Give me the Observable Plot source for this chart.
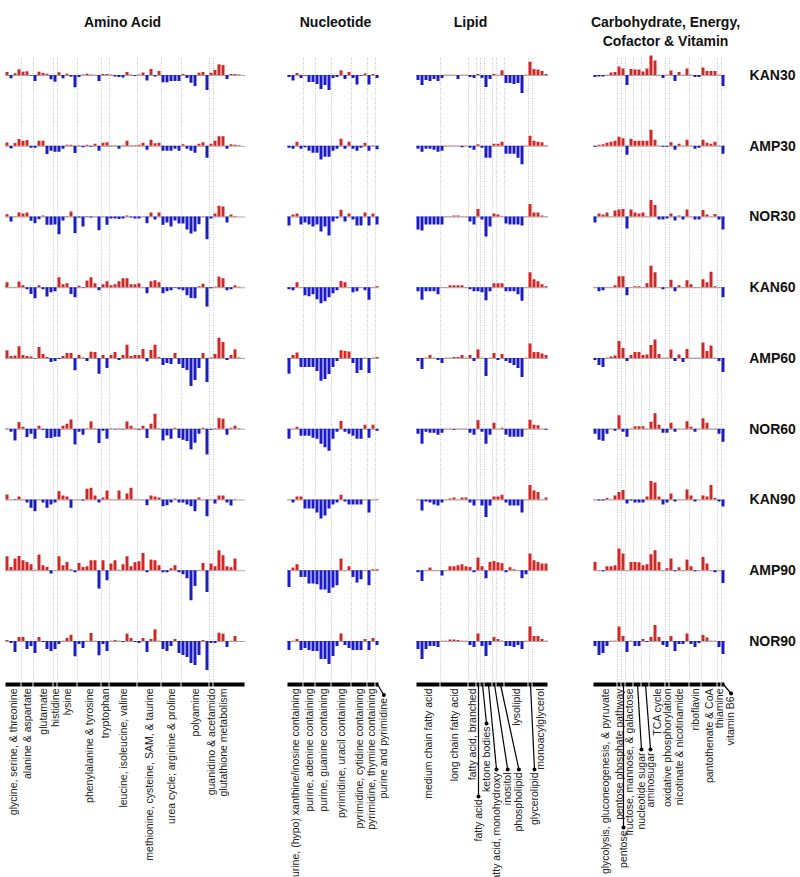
<!DOCTYPE html>
<html><head><meta charset="utf-8">
<script src="https://cdn.jsdelivr.net/npm/d3@7"></script>
<script src="https://cdn.jsdelivr.net/npm/@observablehq/plot@0.6"></script>
<style>
html,body{margin:0;padding:0;background:#fff;}
#chart{width:800px;height:877px;}
</style></head><body><div id="chart"></div>
<script>
// ---------- DATA ----------
const conditions = ["KAN30","AMP30","NOR30","KAN60","AMP60","NOR60","KAN90","AMP90","NOR90"];
const panelTitles = ["Amino Acid","Nucleotide","Lipid","Carbohydrate, Energy,\nCofactor & Vitamin"];

const aminoGroups = ["glycine, serine, & threonine","alanine & aspartate","glutamate","histidine","lysine","phenylalanine & tyrosine","tryptophan","leucine, isoleucine, valine","methionine, cysteine, SAM, & taurine","urea cycle; arginine & proline","polyamine","guanidino & acetamido","glutathione metabolism"];
const aminoSizes = [4,3,5,1,5,6,2,7,6,5,7,1,8];
const amino = [
 [0.3,-0.33,0.17,0.57, 0.33,0.37,-0.05, -0.6,0.33,0.2,0.13,-0.43, -0.67, 0.27,-0.33,0.13,-0.17,-1.23, -0.2,0.05,0.13,0.05,0.03,-0.6, 0.1,0.1, 0.05,-0.15,-0.2,-0.25,0.3,0.05,-0.1, 0.05,0.25,-0.55,0.6,-0.15,0.4, -0.73,-0.73,-0.6,-0.6,-0.6, 0.1,-0.3,-0.77,-1.1,0.23,0.3,-1.5, 0.23, 0.5,1.07,1.0,-0.4,0.1,0.1,0.05,0],
 [0.33,-0.27,0.27,0.67, 0.5,0.57,-0.2, -0.2,0.5,0.5,-0.83,-0.5, -0.6, -0.6,-0.3,0.1,0.1,-0.73, 0.05,-0.15,0.1,-0.1,0.2,-0.5, 0.3,0.35, -0.05,0.05,-0.3,0.05,0.5,0.05,0.05, 0.1,0.3,-0.4,0.6,0.25,0.3, -0.5,-0.5,-0.5,-0.3,-0.5, 0.15,-0.3,-0.5,-0.7,0.2,0.35,-1.2, 0.2, 0.5,0.95,0.95,-0.3,0.15,0.1,0.05,0],
 [0.23,-0.5,0.03,0.4, 0.3,0.4,-0.43, -0.67,-0.27,0.1,-0.83,-0.83, -0.8, -1.77,-0.4,0.05,0.5,-1.67, -0.1,-1.0,-0.05,-0.1,0.03,-1.37, 0.03,-0.83, -0.2,-0.2,-0.25,-0.2,0.1,-0.1,-0.2, -0.2,0.03,-0.67,0.4,-0.3,0.4, -0.83,-0.6,-1.0,-0.4,-0.7, -0.7,-1.3,-1.7,-1.5,-0.77,0.03,-2.27, -0.2, 0.3,1.07,1.0,-0.6,0.2,0.05,0,0],
 [0.5,0.03,0.03,0.57, 0.2,-0.2,-0.67, -1.1,0.2,-0.2,-0.93,-0.5, -0.4, 1.0,0.3,0.4,-0.67,-1.0, 0.15,-0.05,0.67,1.0,0.4,-0.3, 0.3,0.6, 0.2,0.3,0.6,0.9,0.9,0.3,0.3, 0.4,0.03,-0.6,0.6,0.7,0.5, -0.6,-0.4,-0.3,-0.05,-0.2, -0.3,-0.8,-1.07,-1.1,0.1,0.35,-1.93, -0.1, 0.05,1.07,0.9,-0.3,-0.2,0.2,0.05,0],
 [0.77,0.2,0.25,1.17, 0.3,0.2,0.15, -0.05,1.1,0.4,0.1,-0.4, -0.3, -0.1,0.2,0.5,0.5,-1.23, 0.3,0.05,-0.3,0.63,0.6,-1.57, 0.3,-1.0, 0.3,0.6,-0.2,0.3,1.33,0.2,0.3, 0.3,0.9,-0.33,0.8,1.33,0.1, -0.7,-0.5,-0.6,0.5,-0.6, -1.0,-1.2,-2.8,-2.2,-1.0,0.5,-2.4, 0.05, 0.4,2.03,1.6,-0.2,0.3,0.87,0.05,0],
 [0.05,-0.3,-1.17,0.67, 0.2,-0.83,-0.5, -1.0,0.3,-0.1,-0.93,-0.93, -0.8, -0.8,0.3,0.5,0.93,-1.57, -0.3,-0.6,0.05,0.73,0.05,-1.43, -0.2,-1.0, 0.05,-0.05,0.05,-0.05,0.73,0.3,0.05, -0.1,0.3,-0.93,0.5,1.5,0.05, -1.17,-0.67,-1.0,0.1,-0.93, -1.1,-1.23,-2.07,-1.4,-0.5,0.1,-2.57, -0.1, 0.05,1.07,1.0,-0.6,0.1,0.3,0.05,0],
 [0.5,0.03,-0.05,0.3, 0.03,-0.3,-0.83, -1.17,0.03,-0.3,-0.83,-0.5, -0.3, 0.83,0.4,0.3,-0.83,0.03, 0.03,-0.1,1.07,1.17,0.4,-0.3, 0.2,0.9, 0.03,0.03,0.9,0.03,0.6,1.17,0.03, 0.03,0.03,-0.57,0.4,0.3,0.2, -0.67,-0.57,-0.3,0.1,-0.3, -0.3,-0.5,-0.67,-1.17,0.2,0.03,-1.67, 0.03, -0.4,0.4,0.4,-0.3,-0.6,0.05,0,0],
 [1.4,0.33,1.17,1.43, 1.0,0.83,0.6, 0.05,1.57,0.5,0.33,-0.33, 0.03, 1.4,0.5,0.83,0.1,-0.2, 0.73,0.33,0.4,1.0,1.0,-1.83, 1.0,-1.0, 0.67,1.0,0.05,0.6,1.4,0.4,0.8, 0.9,1.73,-0.2,1.07,1.0,0.5, -0.2,-0.2,0.2,0.5,-0.2, -0.4,-0.8,-3.0,-1.57,0.03,0.73,-2.17, 0.67, 0.4,2.0,1.5,0.4,0.3,1.17,0,0],
 [0.1,-0.2,-1.1,0.4, 0.4,-0.8,-0.5, -1.2,0.4,-0.1,-0.8,-1.0, -0.8, -0.3,0.03,0.3,0.63,-1.53, -0.3,-0.7,0.03,0.8,0.03,-1.43, -0.3,-1.0, 0.03,0.1,0.03,-0.1,0.73,0.3,-0.1, -0.2,0.3,-1.1,0.2,1.17,0.03, -0.8,-1.0,-0.5,0.2,-1.2, -1.4,-1.6,-2.2,-2.4,-1.4,0.1,-2.9, -0.2, -0.2,0.83,0.73,-0.6,0.03,0.5,0,0]
];

const nucleotideGroups = ["purine, (hypo) xanthine/inosine containing","purine, adenine containing","purine, guanine containing","pyrimidine, uracil containing","pyrimidine, cytidine containing","pyrimidine, thymine containing","purine and pyrimidine"];
const nucleotideSizes = [4,3,4,5,4,2,1];
const nucleotide = [
 [-0.2,-0.55,0.2,-0.3, -0.05,-0.7,-0.7, -0.9,-1.4,-1.0,-1.5, -0.3,-0.2,0.47,-0.4,0.3, -0.3,-0.95,-0.05,0.15, -0.95,0.1, -0.3],
 [-0.2,-0.3,0.4,-0.3, -0.15,-0.5,-0.7, -0.7,-1.37,-1.1,-1.1, -0.5,-0.3,0.7,-0.3,0.4, -0.3,-0.5,-0.2,0.3, -0.5,0.05, -0.35],
 [-0.9,0.2,0.3,-0.8, -0.6,-0.8,-1.0, -0.8,-1.5,-1.0,-1.9, -0.5,-0.2,0.67,-0.5,0.3, -0.3,-0.9,-0.9,0.4, -0.9,0.3, -0.8],
 [-0.2,-0.3,0.5,0.03, -0.8,-0.9,-0.7, -1.2,-1.6,-1.4,-1.0, -0.6,-0.3,0.63,0.5,0.03, -0.5,-0.4,0.03,-0.3, -1.25,0.03, 0.1],
 [-1.57,0.3,0.55,-0.9, -0.9,-0.9,-0.9, -1.3,-2.27,-2.1,-1.6, -0.9,-0.3,0.78,0.7,0.65, -0.5,-1.5,-1.2,0.03, -1.5,0.03, 0.1],
 [-1.0,0.03,0.2,-0.7, -0.7,-0.7,-0.9, -1.0,-1.5,-1.85,-2.2, -1.0,-0.3,0.78,-0.3,-0.5, -0.7,-1.0,-1.0,0.4, -0.9,0.4, -0.2],
 [0.03,-0.3,0.3,0.3, -0.9,-0.9,-0.9, -1.3,-1.9,-1.6,-0.9, -0.5,-0.3,0.47,-0.2,-0.5, -0.5,-0.5,-0.5,0.03, -1.3,0.03, 0.03],
 [-1.67,0.27,0.6,-0.67, -0.67,-1.33,-1.33, -1.4,-1.93,-1.93,-2.27, -1.73,-1.5,1.17,0.03,0.4, -0.67,-1.23,-0.9,0.03, -1.5,0.1, 0.1],
 [-0.9,0.03,0.2,-0.9, -0.7,-0.9,-1.0, -1.0,-1.8,-1.8,-2.3, -1.5,-0.5,0.75,-0.4,-0.7, -0.9,-0.9,-0.9,0.2, -0.9,0.3, -0.4]
];

const lipidGroups = ["medium chain fatty acid","long chain fatty acid","fatty acid, branched","fatty acid","ketone bodies","fatty acid, monohydroxy","inositol","phospholipid","lysolipid","glycerolipid","monoacylglycerol"];
const lipidSizes = [6,7,2,1,1,2,1,2,6,1,4];
const lipid = [
 [-0.5,-1.0,-0.5,-0.6,-0.4,-0.6, -0.3,0.03,0.03,0.03,-0.4,0.03,0.03, -0.2,-0.3, 0.1, -0.3, -1.2,-0.4, 0.1, 0.03,0.47, -0.8,-0.8,-0.9,-0.8,-1.8,0.03, 1.33, 0.6,0.55,0.4,0.1],
 [-0.3,-0.6,-0.3,-0.3,-0.4,-0.6, -0.5,0.03,0.03,0.03,0.03,-0.15,0.03, -0.2,-0.4, 0.15, -0.2, -1.2,-1.2, 0.2, 0.2,0.4, -0.8,-0.8,-0.8,-1.2,-1.85,0.03, 1.0, 0.5,0.4,0.35,0.05],
 [-1.3,-1.4,-0.8,-0.8,-0.8,-0.8, -0.8,0.03,0.03,0.1,0.1,0.03,0.03, -0.5,-0.8, 0.75, -0.3, -2.0,-1.0, 0.3, 0.2,0.03, -0.7,-0.8,-0.8,-0.8,-0.9,0.03, 1.25, 0.4,0.4,0.1,0.03],
 [-0.4,-1.25,-0.4,-0.4,-0.4,-0.7, 0.03,0.03,0.2,0.2,0.2,0.2,0.03, -0.2,-0.4, -0.4, -0.5, -1.3,-0.4, 0.4, 0.4,0.4, -0.4,-0.4,-0.4,-0.7,-1.35,0.03, 1.5, 0.8,0.6,0.3,0.1],
 [-0.3,-1.1,0.03,0.3,0.03,-0.2, -0.5,0.03,0.03,0.1,0.1,0.3,0.03, 0.3,-0.3, 0.86, 0.03, -1.8,0.03, 0.5, -0.2,0.4, -0.3,-0.5,-0.7,-1.0,-1.9,0.03, 1.45, 0.6,0.6,0.45,0.3],
 [-0.5,-1.5,-0.3,-0.4,-0.4,-0.6, -0.4,0.03,0.03,-0.1,0.03,0.03,0.03, -0.4,-0.6, 0.86, -0.3, -1.5,-0.6, 0.6, 0.03,0.1, -0.6,-0.8,-0.8,-0.8,-0.8,0.03, 0.9, 0.4,0.35,0.03,-0.1],
 [0.03,-1.1,-0.2,-0.3,-0.5,-0.6, -0.3,0.03,0.1,0.2,0.03,0.2,0.2, -0.3,-0.6, 0.03, -0.6, -1.75,-0.6, 0.3, 0.3,0.47, -0.3,-0.6,-0.6,-0.6,-1.3,0.03, 1.45, 0.9,0.75,0.03,0.2],
 [-0.2,-1.07,0.03,0.27,0.03,0.03, -0.53,0.03,0.4,0.4,0.5,0.6,0.4, 0.33,-0.2, 1.27, 0.4, -0.8,0.83, 0.93, 0.8,0.7, -0.2,0.3,0.1,0.03,-0.8,-0.4, 1.67, 1.0,0.83,0.67,0.67],
 [-0.8,-1.8,-0.8,-0.5,-0.5,-0.6, 0.03,0.03,0.15,0.15,0.1,0.03,0.03, -0.4,-0.6, 0.75, -0.5, -1.5,-0.4, 0.4, 0.2,0.03, -0.5,-0.5,-0.6,-0.4,-0.8,0.03, 1.45, 0.5,0.5,0.2,0.03]
];

const carbGroups = ["glycolysis, gluconeogenesis, & pyruvate","pentose phosphate pathway","pentose","fructose, mannose, & galactose","nucleotide sugar","aminosugar","TCA cycle","oxidative phosphorylation","nicotinate & nicotinamide","riboflavin","pantothenate & CoA","thiamine","vitamin B6"];
const carbSizes = [6,1,1,2,2,2,4,1,5,3,4,1,1];
const carb = [
 [-0.2,-0.15,-0.15,0.03,0.25,0.3, 0.85, 0.65, -1.0,0.6, 0.55,0.55, 0.35,0.65, 1.95,1.45,0.03,-0.3, 0.03, 0.45,-0.6,0.3,0.03,0.65, 0.03,-0.2,-0.2, 0.75,0.4,0.4,0.4, 0.03, -1.1],
 [-0.1,0.1,0.15,0.3,0.4,0.5, 0.9, 0.75, -0.9,0.7, 0.5,0.5, 0.5,0.5, 1.6,0.6,0.03,-0.1, -0.1, 0.35,-0.4,0.2,0.03,0.6, 0.03,-0.3,-0.2, 0.6,0.3,0.2,0.4, 0.03, -0.8],
 [-0.6,0.3,0.2,0.4,0.03,0.6, 0.7, 0.75, -1.2,0.7, 0.4,0.3, 0.4,0.03, 1.65,1.15,-0.3,-0.3, -0.2, 0.3,-0.4,0.1,-0.3,0.7, 0.03,-0.3,-0.3, 0.65,0.2,0.03,0.25, -0.3, -1.3],
 [0.03,-0.4,-0.3,0.03,0.03,0.2, 1.1, 1.1, -0.8,0.03, 0.1,0.1, 0.03,0.4, 2.15,1.5,0.03,-0.2, 0.03, 0.75,-0.4,0.2,0.03,0.7, 0.3,0.03,0.03, 0.8,0.5,1.55,0.1, 0.03, -1.0],
 [-0.2,-0.7,-0.9,0.03,0.15,0.25, 1.7, 1.0, -0.3,0.3, 0.6,0.6, 0.3,0.35, 1.3,1.85,0.4,0.03, 0.03, 0.85,-0.3,0.35,-0.4,0.9, 0.03,0.03,0.03, 1.55,0.7,1.25,0.03, -0.3, -1.4],
 [-0.5,-1.1,-1.2,-0.5,0.03,-0.2, 1.35, -0.3, -0.8,0.03, 0.25,0.25, 0.25,0.03, 0.7,1.55,0.4,-0.4, -0.4, 0.6,-0.3,0.03,0.03,0.75, 0.2,-0.3,0.03, 1.05,0.6,0.03,0.03, -0.5, -1.3],
 [0.03,-0.1,-0.1,0.15,0.03,0.4, 0.75, 0.95, -0.4,-0.1, -0.3,-0.3, -0.3,0.3, 1.85,1.7,0.3,-0.5, -0.3, 0.6,-0.2,0.03,0.03,1.0, 0.4,-0.2,0.03, 0.4,0.3,1.45,0.15, -0.2, -0.7],
 [0.83,0.03,-0.1,0.4,0.4,0.5, 2.17, 1.67, 0.03,0.83, 0.83,0.8, 0.5,0.6, 1.6,2.0,0.83,0.03, 0.2, 1.17,-0.1,0.3,0.03,1.07, 0.4,-0.1,0.03, 1.33,0.67,0.03,-0.2, 0.03, -1.27],
 [-0.5,-1.4,-1.2,-0.5,0.03,0.03, 1.45, 0.5, -1.1,0.03, -0.5,-0.5, 0.2,-0.1, 0.4,1.6,0.4,-0.4, -0.6, 0.5,-1.0,-0.3,-0.3,0.75, -0.3,-0.6,-0.2, 0.6,0.35,0.03,0.03, -0.6, -1.3]
];

// ---------- LAYOUT (not data) ----------
const panelStart = [0, 70.5, 102.75, 147];      // x units (1 bar = 1 unit)
const titleDx = [-3, 2, -12, 6];                  // px
const labelX = 191.75;                            // x units, row labels
const barY = -4.3, labelTop = -4.7;               // y units within last row
const leaders = {
  "purine and pyrimidine": {dx: 1.6, y: -5.35},
  "fatty acid": {dx: 0, y: -15.5},
  "ketone bodies": {dx: 1, y: -8.2},
  "fatty acid, monohydroxy": {dx: 2, y: -12.8},
  "inositol": {dx: 3.3, y: -12.8},
  "phospholipid": {dx: 4.6, y: -12.8},
  "glycerolipid": {dx: 1, y: -12.8},
  "pentose": {dx: 0, y: -18.6},
  "nucleotide sugar": {dx: 1, y: -10.8},
  "aminosugar": {dx: 1.25, y: -10.8},
  "vitamin B6": {dx: 1.9, y: -5.2}
};
const labelShift = {"glutathione metabolism": -1.5};
const RED = "#d42626", BLUE = "#1c1cc6";
const FONT = "'Liberation Sans', Arial, Helvetica, sans-serif";

// ---------- BUILD ----------
const panels = [
  {groups: aminoGroups, sizes: aminoSizes, values: amino},
  {groups: nucleotideGroups, sizes: nucleotideSizes, values: nucleotide},
  {groups: lipidGroups, sizes: lipidSizes, values: lipid},
  {groups: carbGroups, sizes: carbSizes, values: carb}
];
const bars = [], groups = [], seps = [], spans = [], titles = [];
panels.forEach((p, pi) => {
  const s0 = panelStart[pi];
  p.values.forEach((row, ri) => row.forEach((v, i) => bars.push({cond: conditions[ri], x: s0 + i, v})));
  let acc = 0;
  p.groups.forEach((name, gi) => {
    const a = s0 + acc, b = a + p.sizes[gi];
    const c = (a + b) / 2;
    const L = leaders[name];
    groups.push({name, x1: a, x2: b, c, lx: c + (L ? L.dx : 0) + (labelShift[name] || 0),
                 ly: L ? L.y : labelTop, leader: !!L});
    if (gi > 0) seps.push(a);
    acc += p.sizes[gi];
  });
  spans.push({x1: s0, x2: s0 + acc});
  titles.push({text: panelTitles[pi], x: s0 + acc / 2 + titleDx[pi] / 4});
});
const last = conditions[conditions.length - 1], first = conditions[0];
const sepData = conditions.flatMap(c => seps.map(x => ({cond: c, x,
  y1: c === first ? 1.7 : 2.475, y2: c === last ? barY : -4.6})));
const leaderData = groups.filter(g => g.leader);

const chart = Plot.plot({
  width: 800, height: 877,
  marginTop: 50.25, marginBottom: 190, marginLeft: 0, marginRight: 0,
  x: {domain: [-1.25, 198.75], axis: null},
  y: {domain: [-4.6, 2.475], axis: null},
  fy: {domain: conditions, axis: null, padding: 0, round: false},
  style: {fontFamily: FONT, background: "white", overflow: "visible"},
  marks: [
    Plot.ruleX(sepData, {x: "x", y1: "y1", y2: "y2", fy: "cond", stroke: "#c4c4c4", strokeWidth: 1, strokeDasharray: "1,1.5"}),
    Plot.ruleY(spans, {y: 0, x1: "x1", x2: "x2", stroke: "#a8a8a8", strokeWidth: 1}),
    Plot.rect(bars, {filter: d => d.v > 0, x1: "x", x2: d => d.x + 1, y1: 0, y2: "v", fy: "cond", fill: RED, insetLeft: 0.5, insetRight: 0.5}),
    Plot.rect(bars, {filter: d => d.v < 0, x1: "x", x2: d => d.x + 1, y1: 0, y2: "v", fy: "cond", fill: BLUE, insetLeft: 0.5, insetRight: 0.5}),
    Plot.text(conditions, {fy: d => d, x: labelX, y: 0, text: d => d, fontWeight: "bold", fontSize: 14, fill: "#111"}),
    Plot.text(titles, {fy: () => first, x: "x", y: 6.2, text: "text", lineAnchor: "top", lineHeight: 1.35, fontWeight: "bold", fontSize: 14, fill: "#111"}),
    Plot.ruleY(groups, {fy: () => last, y: barY, x1: d => d.x1 + 0.12, x2: d => d.x2 - 0.12, stroke: "black", strokeWidth: 4}),
    Plot.link(leaderData, {fy: () => last, x1: "c", y1: barY, x2: "lx", y2: "ly", stroke: "black", strokeWidth: 1.2}),
    Plot.dot(leaderData, {fy: () => last, x: "lx", y: "ly", r: 2, fill: "black", stroke: null}),
    Plot.text(groups, {fy: () => last, x: "lx", y: d => d.leader ? d.ly - 0.3 : d.ly, text: "name", rotate: -90, textAnchor: "end", fontSize: 10.5, fill: "#222"})
  ]
});
document.getElementById("chart").appendChild(chart);
</script>
</body></html>
